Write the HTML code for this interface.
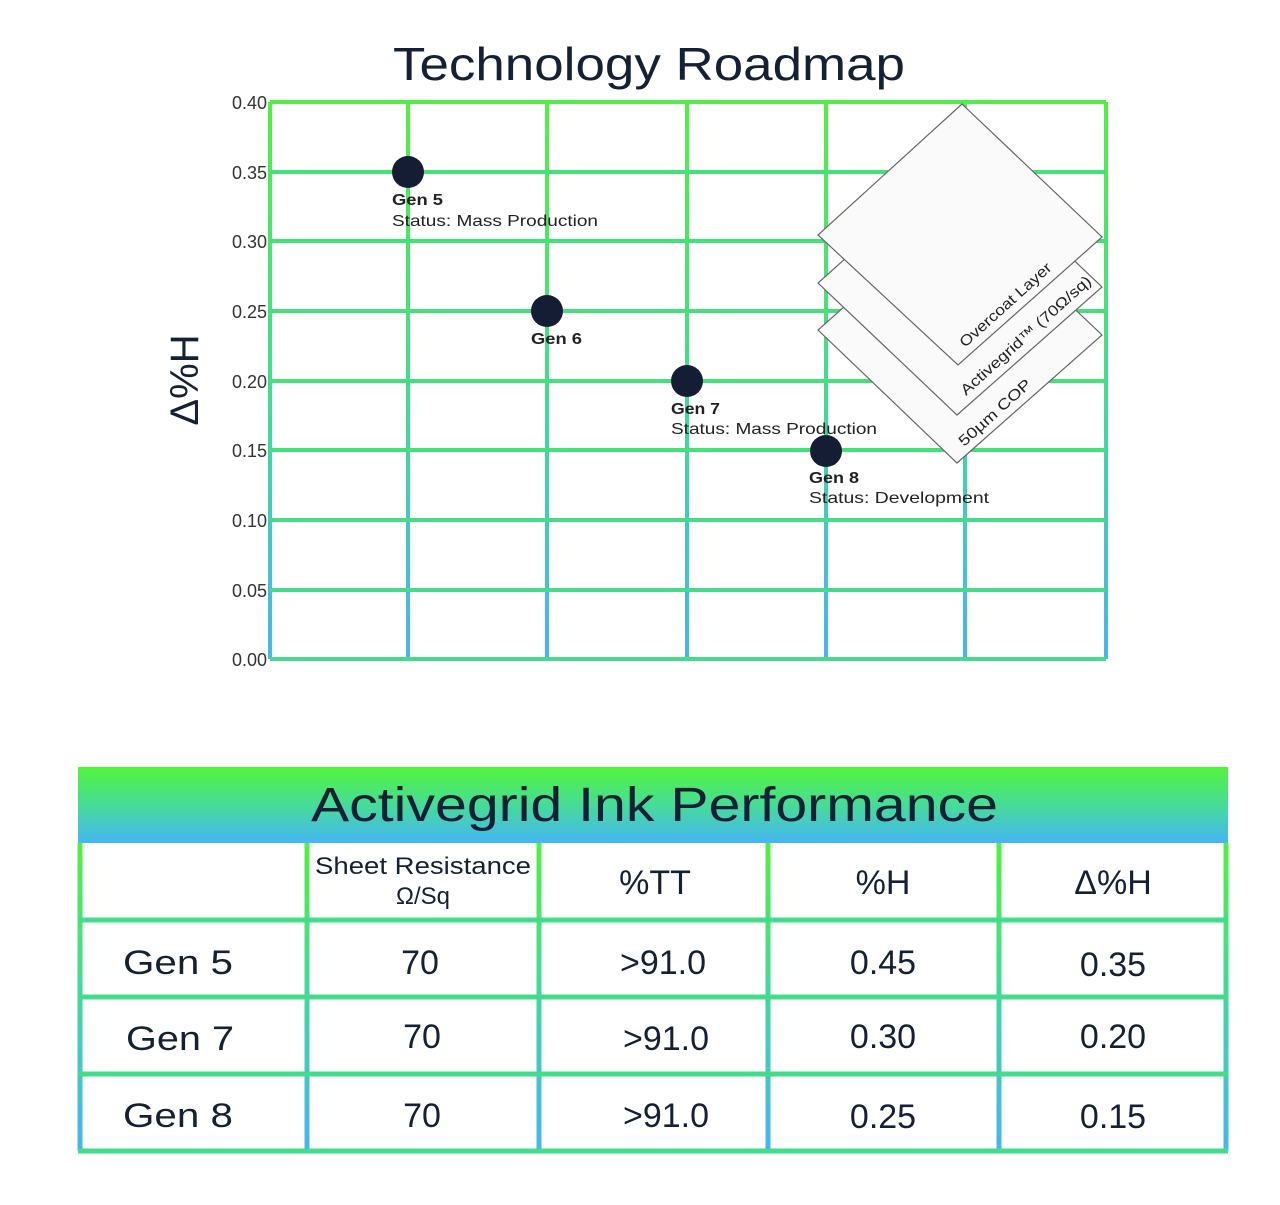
<!DOCTYPE html>
<html><head><meta charset="utf-8"><style>
body{margin:0;background:#fff;}
svg{display:block;font-family:"Liberation Sans",sans-serif;}
</style></head><body>
<svg width="1280" height="1205" viewBox="0 0 1280 1205" xmlns="http://www.w3.org/2000/svg">
<defs>
<linearGradient id="gv" gradientUnits="userSpaceOnUse" x1="0" y1="102" x2="0" y2="659">
<stop offset="0" stop-color="#52f040"/><stop offset="0.6" stop-color="#40d8a0"/><stop offset="1" stop-color="#48b4f0"/></linearGradient>
<linearGradient id="gh" x1="0" y1="0" x2="0" y2="1">
<stop offset="0" stop-color="#52f53a"/><stop offset="0.5" stop-color="#46dc98"/><stop offset="1" stop-color="#45b6f5"/></linearGradient>
<linearGradient id="gt" gradientUnits="userSpaceOnUse" x1="0" y1="843" x2="0" y2="1151">
<stop offset="0" stop-color="#52f040"/><stop offset="0.5" stop-color="#40d8a0"/><stop offset="1" stop-color="#48b4f0"/></linearGradient>
</defs>
<text x="393" y="80" font-size="46" textLength="512" lengthAdjust="spacingAndGlyphs" fill="#152035">Technology Roadmap</text>
<g stroke="url(#gv)" stroke-width="4">
<line x1="270" y1="102" x2="270" y2="659"/><line x1="408" y1="102" x2="408" y2="659"/>
<line x1="547" y1="102" x2="547" y2="659"/><line x1="687" y1="102" x2="687" y2="659"/>
<line x1="826" y1="102" x2="826" y2="659"/><line x1="965" y1="102" x2="965" y2="659"/>
<line x1="1106" y1="102" x2="1106" y2="659"/>
</g>
<g stroke-width="4">
<line x1="270" y1="102" x2="1106" y2="102" stroke="#4ef04a"/>
<line x1="270" y1="172" x2="1106" y2="172" stroke="#44e07a"/>
<line x1="270" y1="241" x2="1106" y2="241" stroke="#44e07a"/>
<line x1="270" y1="311" x2="1106" y2="311" stroke="#44e07a"/>
<line x1="270" y1="381" x2="1106" y2="381" stroke="#44e07a"/>
<line x1="270" y1="450" x2="1106" y2="450" stroke="#44e07a"/>
<line x1="270" y1="520" x2="1106" y2="520" stroke="#44dc88"/>
<line x1="270" y1="590" x2="1106" y2="590" stroke="#44dc88"/>
<line x1="270" y1="659" x2="1106" y2="659" stroke="#44dc88"/>
</g>
<g font-size="18" fill="#333" text-anchor="end">
<text x="267" y="109">0.40</text><text x="267" y="179">0.35</text><text x="267" y="248">0.30</text>
<text x="267" y="318">0.25</text><text x="267" y="388">0.20</text><text x="267" y="457">0.15</text>
<text x="267" y="527">0.10</text><text x="267" y="597">0.05</text><text x="267" y="666">0.00</text>
</g>
<text transform="translate(198,380) rotate(-90)" font-size="40" text-anchor="middle" fill="#152035">Δ%H</text>
<g fill="#141d33">
<circle cx="408" cy="172" r="16"/><circle cx="547" cy="311" r="16"/>
<circle cx="687" cy="381" r="16"/><circle cx="826" cy="451" r="16"/>
</g>
<g font-size="16" fill="#222">
<text x="392" y="205" font-weight="bold" textLength="51" lengthAdjust="spacingAndGlyphs">Gen 5</text><text x="392" y="226" textLength="206" lengthAdjust="spacingAndGlyphs">Status: Mass Production</text>
<text x="531" y="344" font-weight="bold" textLength="51" lengthAdjust="spacingAndGlyphs">Gen 6</text>
<text x="671" y="414" font-weight="bold" textLength="49" lengthAdjust="spacingAndGlyphs">Gen 7</text><text x="671" y="434" textLength="206" lengthAdjust="spacingAndGlyphs">Status: Mass Production</text>
<text x="809" y="483" font-weight="bold" textLength="50" lengthAdjust="spacingAndGlyphs">Gen 8</text><text x="809" y="503" textLength="180" lengthAdjust="spacingAndGlyphs">Status: Development</text>
</g>
<g fill="#fafafa" stroke="#666" stroke-width="1.2">
<polygon points="962,202 1102,335 957,463 818,330"/>
<polygon points="962,154 1102,287 957,415 818,283"/>
<polygon points="962,104 1102,237 958,365 818,235"/>
</g>
<g font-size="15" fill="#222">
<text transform="translate(965,348) rotate(-42)" textLength="118" lengthAdjust="spacingAndGlyphs">Overcoat Layer</text>
<text transform="translate(966,396) rotate(-42)" textLength="170" lengthAdjust="spacingAndGlyphs">Activegrid™ (70Ω/sq)</text>
<text transform="translate(964,447) rotate(-42)" textLength="92" lengthAdjust="spacingAndGlyphs">50µm COP</text>
</g>
<rect x="78" y="767" width="1150" height="76" fill="url(#gh)"/>
<text x="311" y="821" font-size="48" textLength="687" lengthAdjust="spacingAndGlyphs" fill="#152035">Activegrid Ink Performance</text>
<g stroke="url(#gt)" stroke-width="5" fill="none">
<line x1="80" y1="843" x2="80" y2="1151"/><line x1="307" y1="843" x2="307" y2="1151"/>
<line x1="539" y1="843" x2="539" y2="1151"/><line x1="768" y1="843" x2="768" y2="1151"/>
<line x1="999" y1="843" x2="999" y2="1151"/><line x1="1226" y1="843" x2="1226" y2="1151"/>
</g>
<g stroke-width="5">
<line x1="78" y1="920" x2="1228" y2="920" stroke="#42dc8a"/>
<line x1="78" y1="997" x2="1228" y2="997" stroke="#42dc8a"/>
<line x1="78" y1="1074" x2="1228" y2="1074" stroke="#42dc8a"/>
<line x1="78" y1="1151" x2="1228" y2="1151" stroke="#42dc8a"/>
</g>
<g font-size="34" fill="#152035" text-anchor="middle">
<text x="423" y="874" font-size="24" textLength="216" lengthAdjust="spacingAndGlyphs">Sheet Resistance</text><text x="423" y="904" font-size="24">Ω/Sq</text>
<text x="655" y="894">%TT</text><text x="883" y="894">%H</text><text x="1113" y="894">Δ%H</text>
<text x="178" y="974" textLength="110" lengthAdjust="spacingAndGlyphs">Gen 5</text><text x="420" y="974">70</text><text x="663" y="974">&gt;91.0</text><text x="883" y="974">0.45</text><text x="1113" y="976">0.35</text>
<text x="180" y="1050" textLength="108" lengthAdjust="spacingAndGlyphs">Gen 7</text><text x="422" y="1048">70</text><text x="666" y="1050">&gt;91.0</text><text x="883" y="1048">0.30</text><text x="1113" y="1048">0.20</text>
<text x="178" y="1127" textLength="110" lengthAdjust="spacingAndGlyphs">Gen 8</text><text x="422" y="1127">70</text><text x="666" y="1127">&gt;91.0</text><text x="883" y="1128">0.25</text><text x="1113" y="1128">0.15</text>
</g>
</svg>
</body></html>
